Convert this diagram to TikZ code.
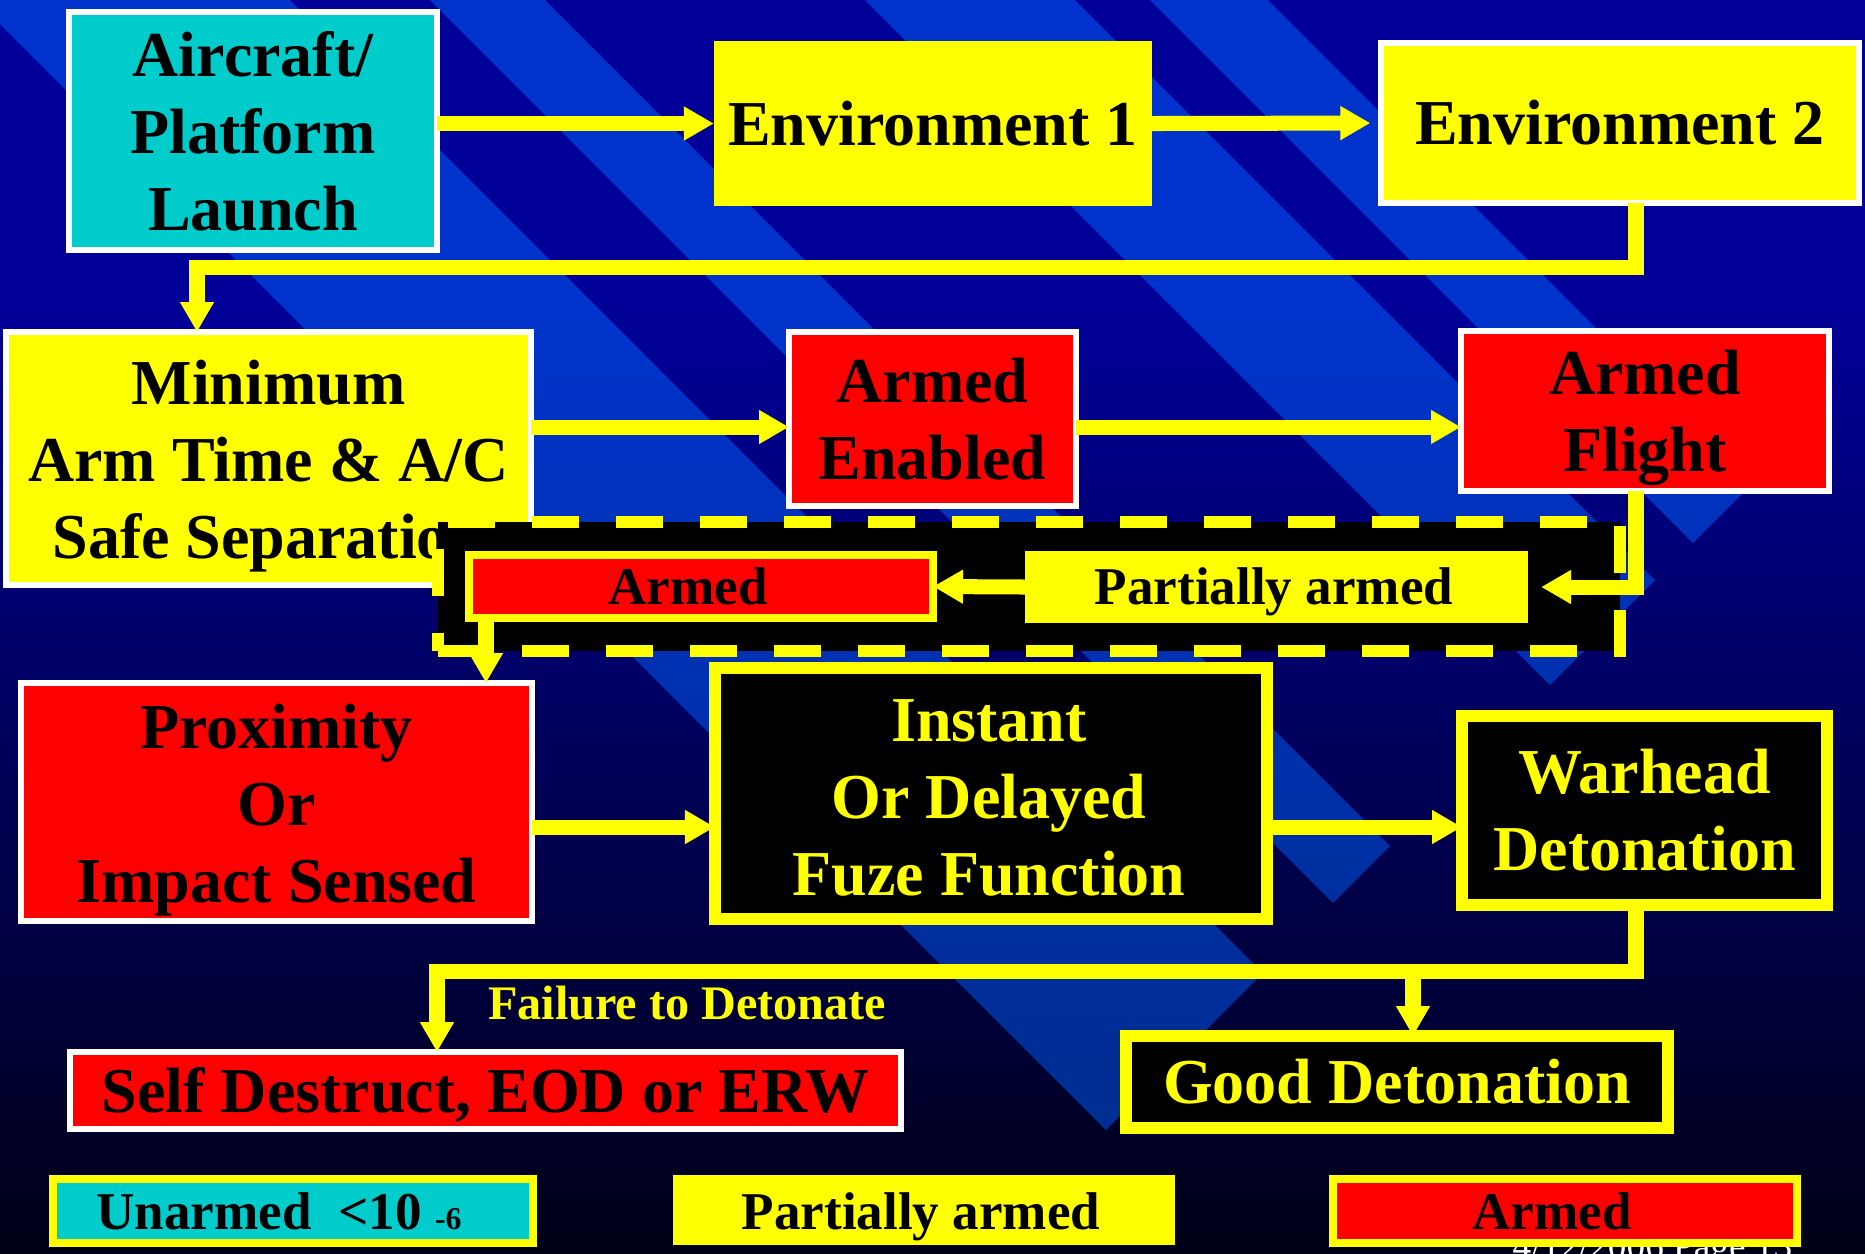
\documentclass[tikz,border=0pt]{standalone}
\usepackage{fontspec}
\setmainfont{Liberation Serif}
\usetikzlibrary{arrows.meta}
\definecolor{bgtop}{RGB}{0,0,153}
\definecolor{bgbot}{RGB}{0,0,22}
\definecolor{bandtop}{RGB}{0,51,204}
\definecolor{bandbot}{RGB}{0,45,135}
\definecolor{cyanbox}{RGB}{0,204,204}
\definecolor{ylw}{RGB}{255,255,0}
\definecolor{rd}{RGB}{255,0,0}
\newcommand\fbig{\fontsize{18.2pt}{21.9pt}\selectfont\bfseries}
\newcommand\fmed{\fontsize{15.1pt}{18pt}\selectfont\bfseries}
\newcommand\fsml{\fontsize{13.7pt}{16pt}\selectfont\bfseries}
\tikzset{
  box/.style={inner sep=0pt, outer sep=0pt, align=center, font=\fbig, text=black},
  lbl/.style={inner sep=0pt, outer sep=0pt, align=center, font=\fbig, text=black},
  whitebox/.style={box, draw=white, line width=1.71pt},
  cyanwhite/.style={whitebox, fill=cyanbox},
  ylwwhite/.style={whitebox, fill=ylw},
  redwhite/.style={whitebox, fill=rd},
  ylwplain/.style={box, fill=ylw},
  blackylw/.style={box, fill=black, draw=ylw, line width=3.41pt, text=ylw},
  redylw/.style={box, fill=rd, draw=ylw, line width=2.28pt, font=\fmed},
  cyanylw/.style={box, fill=cyanbox, draw=ylw, line width=2.28pt, font=\fmed},
  groupbox/.style={box, fill=black, draw=ylw, line width=3.41pt, dash pattern=on 13.4pt off 10.5pt},
  conn/.style={draw=ylw, line width=4.27pt},
  arr/.style={conn, -{Triangle[length=8.5pt,width=9.1pt]}},
}
\begin{document}
\begin{tikzpicture}[x=0.01cm, y=-0.01cm]
\useasboundingbox (0,0) rectangle (1865,1253);
\clip (0,0) rectangle (1865,1253);
% background
\fill[bgtop] (0,0) rectangle (1865,301);
\shade[top color=bgtop, bottom color=bgbot] (0,300) rectangle (1865,1253);
\begin{scope}
\clip (-24,0) -- (290,0) -- (1263,973) -- (1106,1130) -- cycle
      (430,0) -- (545,0) -- (1390,846) -- (1333,903) -- cycle
      (865,0) -- (1075,0) -- (1655,580) -- (1550,685) -- cycle
      (1150,0) -- (1268,0) -- (1752,484) -- (1693,543) -- cycle;
\fill[bandtop] (0,0) rectangle (1865,301);
\shade[top color=bandtop, bottom color=bandbot] (0,300) rectangle (1865,1253);
\end{scope}
% footer (mostly outside the page)
\node[anchor=base west, text=white, font=\fontsize{10.6pt}{12pt}\selectfont, inner sep=0pt] (footer) at (1512,1258) {4/12/2006 Page 13};
% boxes
\node[cyanwhite, minimum width=3.68cm, minimum height=2.38cm] (aircraft) at (253,131) {Aircraft/\\Platform\\Launch};
\node[ylwplain, minimum width=4.38cm, minimum height=1.65cm] (env1) at (933,123.5) {Environment 1};
\node[ylwwhite, minimum width=4.78cm, minimum height=1.60cm] (env2) at (1620,123) {Environment 2};
\node[ylwwhite, minimum width=5.25cm, minimum height=2.53cm] (minimum) at (268.5,458.5) {};
\node[lbl] (minimumT) at (268.5,466.5) {Minimum\\Arm Time \& A/C\\Safe Separation};
\node[redwhite, minimum width=2.87cm, minimum height=1.74cm] (armedEnabled) at (932.5,419) {Armed\\Enabled};
\node[redwhite, minimum width=3.68cm, minimum height=1.60cm] (armedFlight) at (1645,411) {};
\node[lbl] (armedFlightT) at (1645,418) {Armed\\Flight};
\node[groupbox, minimum width=11.82cm, minimum height=1.29cm] (group) at (1029,586.5) {};
\node[redylw, minimum width=4.64cm, minimum height=0.63cm] (armedIn) at (701,586.5) {};
\node[lbl, font=\fmed] (armedInT) at (688,586.5) {Armed};
\node[ylwplain, minimum width=5.03cm, minimum height=0.72cm] (paIn) at (1276.5,587) {};
\node[lbl, font=\fmed] (paInT) at (1274,592) {Partially armed};
\node[redwhite, minimum width=5.11cm, minimum height=2.38cm] (proximity) at (276.5,802) {};
\node[lbl] (proximityT) at (276.5,810) {Proximity\\Or\\Impact Sensed};
\node[blackylw, minimum width=5.52cm, minimum height=2.51cm] (instant) at (991,793.5) {};
\node[lbl, text=ylw] (instantT) at (989,797.5) {Instant\\Or Delayed\\Fuze Function};
\node[blackylw, minimum width=3.65cm, minimum height=1.89cm] (warhead) at (1644.5,810.5) {Warhead\\Detonation};
\node[redwhite, minimum width=8.31cm, minimum height=0.77cm] (selfDestruct) at (485.5,1090.5) {};
\node[lbl] (selfDestructT) at (485.5,1095) {Self Destruct, EOD or ERW};
\node[blackylw, minimum width=5.42cm, minimum height=0.92cm] (goodDet) at (1397,1082) {Good Detonation};
\node[font=\fsml, text=ylw, inner sep=0pt] (fail) at (687,1003) {Failure to Detonate};
% legend
\node[cyanylw, minimum width=4.80cm, minimum height=0.64cm] (legUnarmed) at (293,1211) {};
\node[lbl, font=\fmed] (legUnarmedT) at (279,1211) {Unarmed\ \ {<}10 {\fontsize{9pt}{9pt}\selectfont -6}};
\node[ylwplain, minimum width=5.02cm, minimum height=0.70cm] (legPA) at (924,1210) {};
\node[lbl, font=\fmed] (legPAT) at (921,1217) {Partially armed};
\node[redylw, minimum width=4.64cm, minimum height=0.64cm] (legArmed) at (1565,1211) {};
\node[lbl, font=\fmed] (legArmedT) at (1552,1211) {Armed};
% routing coordinates
\coordinate (cx) at (1636,0);
\coordinate (r1) at (0,267);
\coordinate (dl) at (197,0);
\coordinate (r2) at (0,427);
\coordinate (ar) at (486,0);
\coordinate (r3) at (0,827);
\coordinate (r4) at (0,971);
\coordinate (sl) at (437,0);
\coordinate (gl) at (1413,0);
% connectors
\draw[arr] (aircraft.east |- env1.west) -- (env1.west);
\draw[arr, shorten >=3pt] (env1.east) -- (env2.west);
\draw[arr] (env2.south -| cx) |- (r1 -| dl) -- (minimum.north -| dl);
\draw[arr] (minimum.east |- r2) -- (armedEnabled.west |- r2);
\draw[arr] (armedEnabled.east |- r2) -- (armedFlight.west |- r2);
\draw[arr] (armedFlight.south -| cx) |- ([xshift=0.13cm]paIn.east);
\draw[arr] (paIn.west) -- (armedIn.east);
\draw[arr] (armedIn.south -| ar) -- (proximity.north -| ar);
\draw[arr] (proximity.east |- r3) -- (instant.west |- r3);
\draw[arr] (instant.east |- r3) -- (warhead.west |- r3);
\draw[arr] (warhead.south -| cx) |- (r4 -| sl) -- (selfDestruct.north -| sl);
\draw[arr] (r4 -| gl) -- (goodDet.north -| gl);
\end{tikzpicture}
\end{document}
